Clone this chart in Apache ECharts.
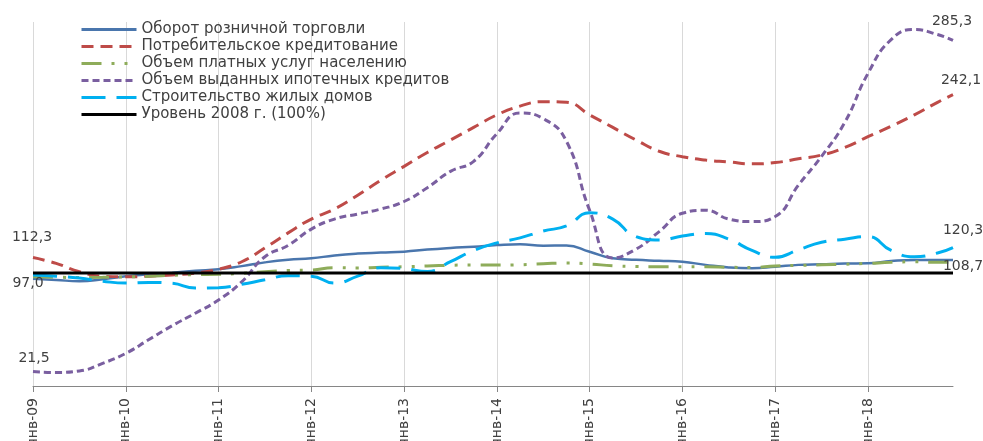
<!DOCTYPE html>
<html>
<head>
<meta charset="utf-8">
<script src="https://cdn.jsdelivr.net/npm/echarts@6/dist/echarts.min.js"></script>
<style>
  html, body { margin: 0; padding: 0; background: #fff; }
  #chart { width: 983px; height: 441px; }
</style>
</head>
<body>
<div id="chart"></div>
<script>
// подписи оси X: месяцы с янв-09 по дек-18
var monthNames = ['янв', 'фев', 'мар', 'апр', 'май', 'июн', 'июл', 'авг', 'сен', 'окт', 'ноя', 'дек']
var years = ['09', '10', '11', '12', '13', '14', '15', '16', '17', '18']

// номера месяцев (от янв-09), для которых сняты значения
var pointIdx = [0, 3, 6, 9, 12, 15, 18, 21, 24, 27, 30, 33, 36, 39, 42, 45, 48, 51, 54, 57,
  60, 63, 66, 69, 72, 75, 78, 81, 84, 87, 90, 93, 96, 99, 102, 105, 108, 111, 114, 117, 119]

// значения, % к уровню 2008 г.
var retail = [95.5, 94.5, 93.5, 95, 97.5, 99, 100.3, 101.8, 103, 105.5, 108.5, 110.6, 111.7, 114, 115.5, 116.3, 117, 118.7, 120, 121,
  122.3, 123, 121.8, 122, 117, 111.7, 110.5, 109.8, 109, 106.5, 104.5, 103.8, 105, 106.5, 107, 107.5, 107.7, 109.5, 110.4, 110.4, 110.4]
var consumerCredit = [112.3, 107.7, 101, 97.5, 97, 97.5, 98.5, 100, 103, 109, 120, 132, 143, 151, 162, 174, 185, 196, 206, 216,
  226, 233, 236.5, 236, 226, 216, 206, 197, 192.7, 190, 188.5, 187, 188, 191, 194, 200, 208.6, 217, 226, 236, 242.1]
var paidServices = [97.0, 96.6, 96.5, 96.6, 97, 97.4, 98.2, 98.8, 99, 99.8, 101, 102, 102.4, 104.3, 104, 104.6, 105, 105.6, 106.2, 106.4,
  106.4, 106.6, 107.4, 108, 107.2, 105.8, 105.2, 105, 105, 105, 104.6, 104.4, 105.6, 106.1, 106.6, 107, 107.7, 108.5, 109, 108.5, 108.7]
var mortgage = [21.5, 20.8, 22, 28, 36, 47, 58, 68, 78.5, 93, 113, 122, 135, 143, 147, 151, 157, 168, 181, 189,
  211, 227.5, 223, 205, 150, 112, 119, 133, 147.6, 150, 143, 141, 145, 170, 193, 220, 259, 286, 294, 290, 285.3]
var housing = [98.5, 97.5, 96, 93.5, 92, 92.5, 91.8, 88, 88.3, 91, 94.6, 97.8, 97.5, 92, 97.5, 104.3, 103.5, 101.2, 109, 118,
  124, 128, 133.5, 137.5, 148, 143, 129, 126.3, 129.5, 131.5, 127, 118, 112.5, 118.5, 124.5, 127, 129, 118, 113, 116, 120.3]
var level2008 = 100

var seriesNames = ['Оборот розничной торговли', 'Потребительское кредитование', 'Объем платных услуг населению',
  'Объем выданных ипотечных кредитов', 'Строительство жилых домов', 'Уровень 2008 г. (100%)']

var categories = []
years.forEach(function (y) {
  monthNames.forEach(function (m) { categories.push(m + '-' + y) })
})

var FONT = 'DejaVu Sans'
var lastIdx = pointIdx.length - 1

function pairs (values) {
  return pointIdx.map(function (m, i) { return [m, values[i]] })
}

// подпись значения в точке i ряда, dx/dy — сдвиг центра подписи
function valueLabel (values, i, dx, dy) {
  return {
    coord: [categories[pointIdx[i]], values[i]],
    value: values[i],
    label: { offset: [dx, dy] }
  }
}

function lineSeries (name, values, color, width, dash, labels) {
  return {
    name: name,
    type: 'line',
    data: pairs(values),
    smooth: true,
    symbol: 'none',
    lineStyle: { color: color, width: width, type: dash },
    itemStyle: { color: color },
    markPoint: {
      symbol: 'circle',
      symbolSize: 0,
      silent: true,
      label: {
        show: true,
        position: 'inside',
        color: '#404040',
        fontSize: 14,
        fontFamily: FONT,
        formatter: function (p) { return p.value.toFixed(1).replace('.', ',') }
      },
      data: labels || []
    }
  }
}

var chart = echarts.init(document.getElementById('chart'))
chart.setOption({
  animation: false,
  backgroundColor: '#fff',
  grid: { left: 33, right: 30, top: 22, bottom: 55, outerBoundsMode: 'none' },
  legend: {
    left: 80,
    top: 22,
    padding: 0,
    orient: 'vertical',
    itemWidth: 55,
    itemHeight: 14,
    itemGap: 2,
    itemStyle: { opacity: 0 }, // без кружков, только линия
    lineStyle: { width: 3 },
    textStyle: { fontSize: 15, lineHeight: 15, color: '#404040', fontFamily: FONT },
    data: seriesNames
  },
  xAxis: {
    type: 'category',
    data: categories,
    boundaryGap: false,
    axisLine: { lineStyle: { color: '#868686', width: 1 } },
    axisTick: { interval: 11, length: 6, lineStyle: { color: '#868686' } },
    axisLabel: { interval: 11, rotate: 90, margin: 12, color: '#404040', fontSize: 14, fontFamily: FONT },
    splitLine: { show: true, interval: 11, lineStyle: { color: '#d9d9d9', width: 1 } }
  },
  yAxis: { type: 'value', min: 10, max: 300, show: false },
  series: [
    lineSeries(seriesNames[0], retail, '#4a76ad', 2.5, 'solid'),
    lineSeries(seriesNames[1], consumerCredit, '#be4b48', 3, [12, 7], [
      valueLabel(consumerCredit, 0, -1, -20),
      valueLabel(consumerCredit, lastIdx, 8, -14)
    ]),
    lineSeries(seriesNames[2], paidServices, '#8eac5a', 3, [20, 10, 3, 10, 3, 10], [
      valueLabel(paidServices, 0, -5, 7),
      valueLabel(paidServices, lastIdx, 10, 4)
    ]),
    lineSeries(seriesNames[3], mortgage, '#7a5fa0', 3, [7, 4], [
      valueLabel(mortgage, 0, 1, -13),
      valueLabel(mortgage, lastIdx, -1, -19)
    ]),
    lineSeries(seriesNames[4], housing, '#00b0f0', 3, [24, 11], [
      valueLabel(housing, lastIdx, 10, -17)
    ]),
    {
      name: seriesNames[5],
      type: 'line',
      data: [[pointIdx[0], level2008], [pointIdx[lastIdx], level2008]],
      symbol: 'none',
      lineStyle: { color: '#000', width: 3 },
      itemStyle: { color: '#000' }
    }
  ]
})
</script>
</body>
</html>
